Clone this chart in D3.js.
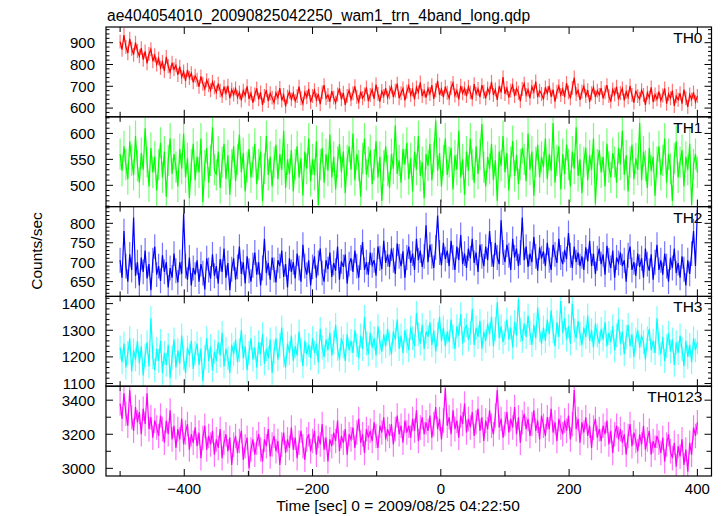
<!DOCTYPE html>
<html><head><meta charset="utf-8">
<script src="https://cdn.jsdelivr.net/npm/d3@7"></script>
<style>body{margin:0;background:#fff} text{font-family:"Liberation Sans",Arial,Helvetica,sans-serif;fill:#000}</style>
</head><body><svg id="c" width="723" height="516"></svg>
<script>
// time bins: start at -500 s, every 3 s, to 400 s
const tStart = -500, tStep = 3;

const th0 = [
905,868,935,880,852,918,872,845,900,862,
838,875,822,860,805,848,870,815,842,800,
828,785,812,770,835,792,765,808,778,796,
752,790,742,768,725,775,738,760,718,748,
730,698,745,712,688,728,705,682,720,695,
672,712,680,655,698,668,702,645,685,662,
690,650,672,635,680,658,700,642,668,625,
662,690,640,672,615,655,682,632,668,648,
625,670,648,692,635,660,608,652,675,640,
668,632,655,698,645,620,672,650,688,628,
655,682,638,665,618,672,705,645,660,630,
678,648,625,662,690,640,670,615,655,682,
640,668,700,652,628,675,645,662,695,632,
660,685,642,708,665,630,678,655,692,648,
672,698,650,680,712,645,668,690,635,675,
702,660,685,640,695,672,718,655,680,648,
690,665,705,642,682,725,660,688,650,698,
670,645,692,715,658,680,640,702,668,690,
655,698,672,640,710,665,688,650,705,675,
645,690,668,720,660,685,638,700,672,742,
665,692,648,680,705,655,690,670,632,688,
712,660,685,645,698,675,722,650,680,665,
640,695,668,702,652,685,630,675,700,660,
688,650,715,672,645,692,740,665,682,638,
675,700,655,682,628,668,695,650,680,660,
692,645,672,705,655,630,685,662,698,640,
668,690,635,675,650,702,660,625,680,655,
642,682,660,615,670,648,695,628,662,640,
675,635,658,690,620,665,645,680,610,655,
638,668,620,685,645,605,662,640,672,628,
655];

const th1 = [
560,528,575,540,512,585,548,520,595,538,
505,562,530,610,545,498,572,525,555,490,
540,582,515,565,478,548,590,522,560,535,
498,570,532,600,515,552,475,540,580,510,
555,525,590,468,538,572,505,548,612,530,
520,565,495,545,580,512,558,482,540,575,
508,550,598,525,562,488,535,570,515,545,
580,502,540,565,470,532,595,520,555,498,
545,578,512,560,530,605,495,550,522,568,
488,540,575,515,552,480,565,532,590,508,
550,520,585,462,540,572,505,560,528,598,
515,555,492,545,580,525,565,485,548,575,
530,600,510,560,538,478,552,590,520,545,
568,502,540,585,515,555,470,538,575,528,
495,560,532,615,522,548,505,570,540,582,
512,552,488,565,530,595,518,545,475,560,
538,580,510,555,625,528,562,498,548,590,
520,545,572,492,558,530,605,515,550,482,
565,528,590,540,505,575,522,560,618,535,
498,555,532,580,510,548,470,565,538,595,
525,562,490,545,585,518,558,502,540,572,
550,508,600,530,565,480,545,578,515,555,
535,590,512,560,528,620,505,548,575,492,
560,522,578,540,498,565,532,612,518,550,
485,545,572,510,558,530,590,465,540,568,
525,555,498,580,535,515,562,545,505,572,
540,605,520,558,488,545,578,512,552,530,
620,510,565,538,495,572,528,555,480,545,
575,520,548,590,505,560,532,470,552,585,
515,545,568,498,555,530,580,462,540,560,
525];

const th2 = [
705,660,780,690,650,720,680,815,665,700,
640,712,675,730,658,695,628,705,740,668,
690,652,718,675,700,635,685,660,722,678,
648,700,670,825,690,655,712,640,685,668,
705,650,695,672,630,710,680,658,720,665,
690,645,708,675,735,660,698,628,682,710,
655,688,740,670,700,645,715,678,650,692,
725,668,700,640,685,760,672,698,655,712,
680,648,705,690,730,662,695,635,710,675,
700,658,722,685,650,745,690,668,705,640,
688,715,660,698,735,672,650,705,682,725,
662,698,678,740,655,702,688,720,645,695,
710,675,730,690,660,712,752,680,700,668,
725,692,705,665,740,710,682,755,698,720,
688,735,705,670,748,715,690,728,660,712,
740,698,722,680,760,705,730,688,715,795,
700,745,715,685,738,820,725,692,750,708,
730,690,755,712,680,740,705,770,695,722,
685,735,710,760,698,725,675,745,715,690,
740,705,780,720,688,750,712,695,808,725,
700,745,718,680,760,712,735,690,725,815,
705,740,688,722,700,765,715,678,738,710,
728,690,750,705,680,745,720,698,760,712,
695,732,708,775,718,685,740,700,725,690,
715,680,738,702,755,690,722,670,710,735,
695,720,668,742,705,685,730,660,712,698,
725,690,705,650,718,740,680,700,665,722,
688,710,660,735,695,678,720,655,700,745,
680,705,668,722,690,650,712,685,735,672,
698,660,715,682,640,705,670,722,780,690,
835];

const th3 = [
1235,1180,1250,1160,1215,1270,1145,1225,1190,1260,
1175,1240,1130,1205,1255,1165,1345,1200,1150,1230,
1185,1260,1140,1215,1170,1245,1120,1198,1265,1160,
1225,1175,1280,1195,1140,1235,1205,1260,1155,1215,
1250,1170,1230,1110,1200,1270,1185,1240,1150,1220,
1185,1255,1205,1290,1165,1230,1195,1140,1245,1210,
1265,1180,1225,1300,1195,1240,1150,1215,1270,1190,
1235,1160,1255,1210,1285,1175,1230,1195,1265,1140,
1220,1270,1190,1245,1310,1205,1160,1250,1215,1280,
1185,1240,1205,1295,1225,1165,1260,1210,1245,1195,
1270,1215,1250,1180,1305,1235,1200,1265,1225,1290,
1205,1255,1320,1230,1190,1270,1240,1185,1285,1225,
1260,1215,1300,1245,1195,1280,1230,1350,1250,1210,
1290,1235,1270,1205,1315,1255,1220,1285,1240,1305,
1250,1210,1295,1265,1340,1230,1280,1215,1300,1260,
1225,1310,1270,1240,1365,1285,1250,1320,1230,1295,
1275,1330,1245,1300,1220,1285,1350,1260,1310,1240,
1295,1255,1340,1275,1230,1315,1280,1360,1250,1300,
1320,1265,1290,1380,1245,1310,1275,1335,1230,1295,
1260,1325,1285,1350,1240,1305,1405,1270,1315,1255,
1290,1340,1265,1310,1235,1330,1280,1415,1300,1260,
1325,1275,1355,1290,1245,1320,1270,1385,1300,1250,
1310,1260,1340,1285,1375,1295,1240,1330,1275,1410,
1290,1345,1265,1315,1250,1400,1300,1270,1335,1285,
1245,1310,1275,1355,1260,1300,1235,1325,1280,1250,
1305,1265,1330,1240,1290,1255,1315,1225,1280,1340,
1250,1295,1210,1275,1320,1240,1285,1200,1265,1300,
1235,1280,1255,1190,1270,1305,1225,1260,1215,1345,
1250,1210,1275,1185,1240,1290,1220,1265,1170,1255,
1215,1280,1230,1165,1260,1200,1245,1180,1270,1225,
1255];

const th0123 = [
3380,3290,3440,3320,3250,3460,3300,3220,3360,3270,
3330,3200,3350,3260,3440,3230,3300,3180,3280,3240,
3190,3310,3230,3150,3280,3200,3340,3170,3250,3120,
3230,3170,3290,3140,3210,3260,3110,3200,3150,3240,
3130,3210,3060,3180,3250,3110,3190,3140,3220,3080,
3170,3120,3230,3060,3150,3200,3100,3180,3020,3140,
3190,3090,3160,3220,3050,3130,3180,3000,3110,3170,
3080,3150,3200,3110,3040,3170,3130,3230,3070,3140,
3190,3100,3160,3020,3140,3210,3090,3170,3120,3240,
3110,3180,3060,3150,3220,3130,3050,3170,3200,3100,
3160,3220,3080,3190,3140,3260,3110,3180,3040,3170,
3130,3210,3160,3280,3100,3190,3150,3230,3080,3200,
3170,3240,3120,3210,3290,3150,3200,3090,3230,3180,
3220,3160,3270,3190,3120,3250,3210,3300,3170,3230,
3190,3260,3140,3230,3310,3200,3250,3150,3280,3210,
3250,3180,3290,3220,3340,3160,3240,3300,3200,3270,
3220,3310,3180,3260,3360,3230,3290,3170,3280,3470,
3250,3300,3200,3340,3230,3280,3180,3310,3260,3380,
3210,3290,3240,3330,3190,3270,3350,3220,3300,3160,
3280,3230,3340,3250,3200,3310,3460,3240,3290,3180,
3260,3330,3210,3290,3240,3360,3200,3300,3150,3270,
3320,3230,3290,3190,3260,3340,3220,3280,3170,3310,
3250,3190,3300,3230,3350,3210,3270,3160,3290,3240,
3200,3280,3220,3310,3170,3260,3460,3230,3290,3150,
3270,3210,3300,3190,3250,3120,3240,3290,3180,3230,
3160,3250,3200,3280,3140,3220,3090,3200,3250,3170,
3230,3150,3200,3080,3190,3260,3130,3210,3160,3100,
3200,3140,3250,3110,3170,3220,3080,3160,3120,3190,
3150,3090,3180,3040,3140,3200,3100,3060,3150,3010,
3130,3070,3170,3020,3110,2980,3150,3080,3240,3190,
3270];

const panelNames = ["TH0","TH1","TH2","TH3","TH0123"];
const seriesList = [th0, th1, th2, th3, th0123];
const colors = ["#ff0000","#00ff00","#0000ff","#00ffff","#ff00ff"];
const yDomains = [[560,972],[459,632],[612,843],[1090,1427],[2955,3482]];
const yMajorStep = [100,50,50,100,200];
const yMinorStep = [20,10,10,20,100];
const errBars = [32,30,32,45,72];
const xDomain = [-522, 422];
const xMajorTicks = [-400,-200,0,200,400];
const xMinorTicks = [-500,-300,-100,100,300];
const titleText = "ae404054010_20090825042250_wam1_trn_4band_long.qdp";
const xLabel = "Time [sec] 0 = 2009/08/25 04:22:50";
const yLabel = "Counts/sec";

(function () {
const svg = d3.select("#c");
const pl = 106, pr = 711.5, pt = 27, pb = 476;
const nP = seriesList.length;
const pH = (pb - pt) / nP;
const x = d3.scaleLinear().domain(xDomain).range([pl, pr]);
const fmt = v => (v < 0 ? "\u2212" + Math.abs(v) : String(v));

seriesList.forEach((vals, p) => {
  const y0 = pt + p * pH, y1 = y0 + pH;
  const y = d3.scaleLinear().domain(yDomains[p]).range([y1, y0]);
  const g = svg.append("g");
  const cid = "clip" + p;
  svg.append("clipPath").attr("id", cid).append("rect")
    .attr("x", pl).attr("y", y0).attr("width", pr - pl).attr("height", pH);
  const data = vals.map((v, i) => ({t: tStart + i * tStep, v}));
  const dg = g.append("g").attr("clip-path", `url(#${cid})`);
  dg.selectAll("line.err").data(data).enter().append("line")
    .attr("x1", d => x(d.t)).attr("x2", d => x(d.t))
    .attr("y1", d => y(d.v - errBars[p])).attr("y2", d => y(d.v + errBars[p]))
    .attr("stroke", colors[p]).attr("stroke-opacity", 0.55).attr("stroke-width", 1.2);
  dg.append("path").datum(data)
    .attr("d", d3.line().x(d => x(d.t)).y(d => y(d.v)))
    .attr("fill", "none").attr("stroke", colors[p]).attr("stroke-width", 1.2);

  g.append("rect").attr("x", pl).attr("y", y0).attr("width", pr - pl).attr("height", pH)
    .attr("fill", "none").attr("stroke", "#000").attr("stroke-width", 1.2);

  const [d0, d1] = yDomains[p];
  const majors = d3.range(Math.ceil(d0 / yMajorStep[p]) * yMajorStep[p], d1, yMajorStep[p]);
  const minors = d3.range(Math.ceil(d0 / yMinorStep[p]) * yMinorStep[p], d1, yMinorStep[p])
    .filter(v => v % yMajorStep[p] !== 0);
  const tg = g.append("g").attr("stroke", "#000").attr("stroke-width", 1);
  const minLen = p === 4 ? 5 : 3.5;
  majors.forEach(v => {
    tg.append("line").attr("x1", pl).attr("x2", pl + 7).attr("y1", y(v)).attr("y2", y(v));
    tg.append("line").attr("x1", pr).attr("x2", pr - 7).attr("y1", y(v)).attr("y2", y(v));
  });
  minors.forEach(v => {
    tg.append("line").attr("x1", pl).attr("x2", pl + minLen).attr("y1", y(v)).attr("y2", y(v));
    tg.append("line").attr("x1", pr).attr("x2", pr - minLen).attr("y1", y(v)).attr("y2", y(v));
  });
  g.selectAll("text.yt").data(majors).enter().append("text")
    .attr("x", pl - 11).attr("y", d => y(d)).attr("dy", "0.36em")
    .attr("text-anchor", "end").attr("font-size", 15).text(d => fmt(d));

  xMajorTicks.forEach(t => {
    tg.append("line").attr("x1", x(t)).attr("x2", x(t)).attr("y1", y0).attr("y2", y0 + 7);
    tg.append("line").attr("x1", x(t)).attr("x2", x(t)).attr("y1", y1).attr("y2", y1 - 7);
  });
  xMinorTicks.forEach(t => {
    tg.append("line").attr("x1", x(t)).attr("x2", x(t)).attr("y1", y0).attr("y2", y0 + 5);
    tg.append("line").attr("x1", x(t)).attr("x2", x(t)).attr("y1", y1).attr("y2", y1 - 5);
  });

  g.append("text").attr("x", pr - 9).attr("y", y0 + 16)
    .attr("text-anchor", "end").attr("font-size", 15.5).text(panelNames[p]);
});

svg.selectAll("text.xt").data(xMajorTicks).enter().append("text")
  .attr("x", d => x(d)).attr("y", pb + 18).attr("text-anchor", "middle")
  .attr("font-size", 15).text(d => fmt(d));

svg.append("text").attr("x", 398).attr("y", 511).attr("text-anchor", "middle")
  .attr("font-size", 15.5).text(xLabel);
svg.append("text").attr("transform", "translate(42,251) rotate(-90)")
  .attr("text-anchor", "middle").attr("font-size", 15.5).text(yLabel);
svg.append("text").attr("x", 107).attr("y", 21).attr("font-size", 15.6).text(titleText);
})();
</script></body></html>
